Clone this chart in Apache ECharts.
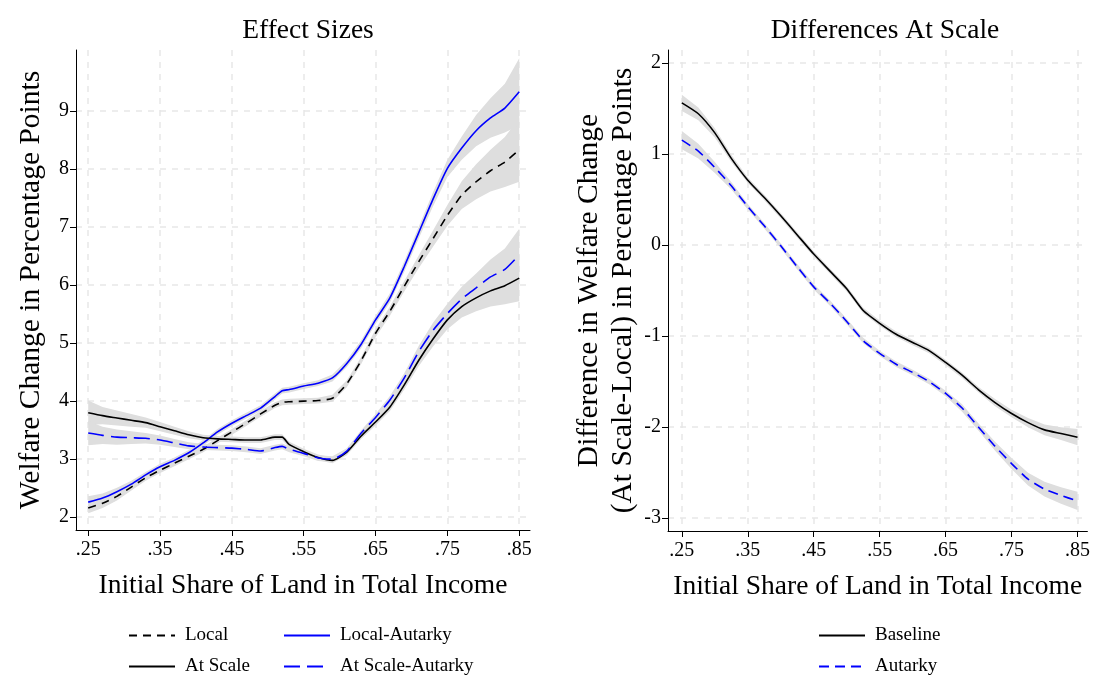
<!DOCTYPE html>
<html lang="en">
<head>
    <meta charset="UTF-8">
    <title>Effect Sizes</title>
    <script src="https://cdn.jsdelivr.net/npm/echarts@6/dist/echarts.min.js"></script>
    <style>
        html, body { margin: 0; padding: 0; background: #fff; }
    </style>
</head>
<body>
<div id="main" style="width: 1093px;height:675px;"></div>
<script type="text/javascript">
    // left panel: x grid and the four curves
    var xLeft = [0.25, 0.27, 0.29, 0.31, 0.33, 0.35, 0.37, 0.39, 0.41, 0.43, 0.45, 0.47, 0.49, 0.51, 0.52,
        0.53, 0.55, 0.57, 0.59, 0.61, 0.63, 0.65, 0.67, 0.69, 0.71, 0.73, 0.75, 0.77, 0.79, 0.81, 0.83, 0.85];
    var local = [2.16, 2.24, 2.36, 2.52, 2.68, 2.81, 2.93, 3.05, 3.17, 3.32, 3.47, 3.62, 3.78, 3.93, 3.98,
        3.99, 4.00, 4.01, 4.05, 4.30, 4.70, 5.17, 5.55, 5.98, 6.40, 6.80, 7.20, 7.55, 7.78, 7.97, 8.12, 8.33];
    var localAutarky = [2.26, 2.33, 2.44, 2.57, 2.73, 2.87, 2.98, 3.11, 3.28, 3.47, 3.62, 3.75, 3.88, 4.08, 4.18,
        4.20, 4.26, 4.31, 4.40, 4.65, 4.98, 5.40, 5.78, 6.32, 6.90, 7.48, 8.01, 8.36, 8.66, 8.88, 9.05, 9.33];
    var atScale = [3.80, 3.75, 3.71, 3.67, 3.63, 3.56, 3.49, 3.42, 3.37, 3.35, 3.34, 3.33, 3.33, 3.38, 3.38,
        3.25, 3.13, 3.03, 2.98, 3.12, 3.40, 3.64, 3.90, 4.28, 4.70, 5.07, 5.40, 5.63, 5.78, 5.90, 5.99, 6.12];
    var atScaleAutarky = [3.45, 3.41, 3.38, 3.37, 3.36, 3.33, 3.28, 3.23, 3.21, 3.20, 3.19, 3.17, 3.14, 3.20, 3.22,
        3.17, 3.10, 3.02, 3.00, 3.14, 3.45, 3.72, 4.02, 4.40, 4.85, 5.22, 5.51, 5.76, 5.95, 6.14, 6.27, 6.52];
    // half widths of the confidence bands
    var wLocal = [0.09, 0.08, 0.07, 0.06, 0.05, 0.05, 0.05, 0.05, 0.05, 0.05, 0.05, 0.05, 0.05, 0.05, 0.05,
        0.05, 0.05, 0.05, 0.06, 0.06, 0.06, 0.07, 0.08, 0.09, 0.11, 0.14, 0.18, 0.24, 0.30, 0.36, 0.43, 0.55];
    var wLocalAutarky = [0.10, 0.08, 0.07, 0.06, 0.05, 0.05, 0.05, 0.05, 0.05, 0.05, 0.05, 0.05, 0.05, 0.05, 0.05,
        0.05, 0.05, 0.05, 0.06, 0.06, 0.07, 0.07, 0.08, 0.09, 0.10, 0.12, 0.15, 0.20, 0.27, 0.34, 0.42, 0.58];
    var wAtScale = [0.21, 0.15, 0.13, 0.11, 0.09, 0.08, 0.07, 0.06, 0.05, 0.05, 0.05, 0.05, 0.05, 0.05, 0.05,
        0.05, 0.05, 0.05, 0.05, 0.05, 0.05, 0.06, 0.07, 0.08, 0.10, 0.13, 0.16, 0.19, 0.23, 0.27, 0.32, 0.40];
    var wAtScaleAutarky = [0.21, 0.15, 0.13, 0.11, 0.09, 0.08, 0.07, 0.06, 0.05, 0.05, 0.05, 0.05, 0.05, 0.05, 0.05,
        0.05, 0.05, 0.05, 0.05, 0.05, 0.05, 0.06, 0.07, 0.08, 0.10, 0.13, 0.17, 0.21, 0.25, 0.30, 0.36, 0.45];

    // right panel
    var xRight = [0.25, 0.275, 0.30, 0.325, 0.35, 0.375, 0.40, 0.425, 0.45, 0.475, 0.50, 0.525, 0.55,
        0.575, 0.60, 0.625, 0.65, 0.675, 0.70, 0.725, 0.75, 0.775, 0.80, 0.825, 0.85];
    var baseline = [1.56, 1.44, 1.23, 0.95, 0.71, 0.52, 0.32, 0.11, -0.10, -0.29, -0.48, -0.72, -0.86,
        -0.98, -1.07, -1.16, -1.29, -1.43, -1.59, -1.73, -1.85, -1.95, -2.03, -2.07, -2.11];
    var autarky = [1.15, 1.03, 0.85, 0.65, 0.42, 0.21, -0.01, -0.24, -0.46, -0.64, -0.84, -1.05, -1.19,
        -1.31, -1.40, -1.50, -1.63, -1.79, -2.00, -2.21, -2.40, -2.57, -2.68, -2.75, -2.81];
    var wBaseline = [0.09, 0.07, 0.05, 0.04, 0.03, 0.03, 0.03, 0.03, 0.03, 0.03, 0.03, 0.03, 0.03,
        0.03, 0.03, 0.03, 0.03, 0.03, 0.03, 0.04, 0.04, 0.05, 0.06, 0.07, 0.09];
    var wAutarky = [0.10, 0.08, 0.06, 0.04, 0.03, 0.03, 0.03, 0.03, 0.03, 0.03, 0.03, 0.03, 0.03,
        0.03, 0.03, 0.03, 0.03, 0.04, 0.04, 0.05, 0.06, 0.07, 0.08, 0.09, 0.10];

    var xTicks = [0.25, 0.35, 0.45, 0.55, 0.65, 0.75, 0.85];
    var yTicksLeft = [2, 3, 4, 5, 6, 7, 8, 9];
    var yTicksRight = [-3, -2, -1, 0, 1, 2];

    var FONT = 'Liberation Serif';
    var myChart = echarts.init(document.getElementById('main'));

    function pairs(xs, ys) {
        return xs.map(function (x, i) { return [x, ys[i]]; });
    }

    // gray band drawn as one polygon through the axis scales
    function band(xs, ys, ws, gi) {
        return {
            type: 'custom', xAxisIndex: gi, yAxisIndex: gi, z: 1, silent: true,
            data: [[xs[0], ys[0]]],
            renderItem: function (params, api) {
                var pts = [];
                for (var i = 0; i < xs.length; i++) pts.push(api.coord([xs[i], ys[i] + ws[i]]));
                for (var j = xs.length - 1; j >= 0; j--) pts.push(api.coord([xs[j], ys[j] - ws[j]]));
                return { type: 'polygon', shape: { points: pts }, style: { fill: '#dedede' } };
            }
        };
    }

    function line(name, xs, ys, color, type, gi) {
        return {
            name: name, type: 'line', xAxisIndex: gi, yAxisIndex: gi, z: 3,
            data: pairs(xs, ys), symbol: 'none', smooth: 0.2,
            lineStyle: { color: color, width: 1.6, type: type },
            itemStyle: { color: color }
        };
    }

    function xAx(gi, min, max) {
        return {
            type: 'value', gridIndex: gi, min: min, max: max,
            name: 'Initial Share of Land in Total Income', nameLocation: 'middle', nameGap: 42,
            nameTextStyle: { fontFamily: FONT, fontSize: 27.5, color: '#000' },
            axisLine: { onZero: false, lineStyle: { color: '#000', width: 1 } },
            axisTick: { customValues: xTicks, length: 6, lineStyle: { color: '#000' } },
            axisLabel: {
                customValues: xTicks, fontFamily: FONT, fontSize: 20, color: '#000', margin: 10,
                formatter: function (v) { return v.toFixed(2).replace(/^0/, ''); }
            },
            splitLine: { show: true, lineStyle: { color: '#e8e8e8', type: [6, 6], width: 1.5 } }
        };
    }

    function yAx(gi, min, max, ticks, name, gap) {
        return {
            type: 'value', gridIndex: gi, min: min, max: max,
            name: name, nameLocation: 'middle', nameGap: gap,
            nameTextStyle: { fontFamily: FONT, fontSize: 29.5, color: '#000', lineHeight: 34 },
            axisLine: { show: true, onZero: false, lineStyle: { color: '#000', width: 1 } },
            axisTick: { show: true, customValues: ticks, length: 6, lineStyle: { color: '#000' } },
            axisLabel: { customValues: ticks, fontFamily: FONT, fontSize: 20, color: '#000', margin: 7 },
            splitLine: { show: true, lineStyle: { color: '#e8e8e8', type: [6, 6], width: 1.5 } }
        };
    }

    function legendBox(names, left) {
        return {
            data: names, orient: 'vertical', left: left, top: 626, height: 80, padding: 0,
            itemWidth: 46, itemHeight: 18, itemGap: 12,
            itemStyle: { opacity: 0 },
            textStyle: { fontFamily: FONT, fontSize: 19, color: '#000', padding: [0, 0, 0, 5] }
        };
    }

    var option = {
        animation: false,
        title: [
            { text: 'Effect Sizes', left: 303, top: 12, textAlign: 'center',
              textStyle: { fontFamily: FONT, fontSize: 27.5, fontWeight: 'normal', color: '#000' } },
            { text: 'Differences At Scale', left: 880, top: 12, textAlign: 'center',
              textStyle: { fontFamily: FONT, fontSize: 27.5, fontWeight: 'normal', color: '#000' } }
        ],
        legend: [
            legendBox(['Local', 'At Scale'], 128),
            legendBox(['Local-Autarky', 'At Scale-Autarky'], 283),
            legendBox(['Baseline', 'Autarky'], 818)
        ],
        grid: [
            { left: 76, top: 50, width: 454, height: 480 },
            { left: 668, top: 50, width: 422, height: 481 }
        ],
        xAxis: [xAx(0, 0.233, 0.865), xAx(1, 0.229, 0.865)],
        yAxis: [
            yAx(0, 1.78, 10.05, yTicksLeft, 'Welfare Change in Percentage Points', 28),
            yAx(1, -3.14, 2.14, yTicksRight, 'Difference in Welfare Change\n(At Scale-Local) in Percentage Points', 21)
        ],
        series: [
            band(xLeft, local, wLocal, 0),
            band(xLeft, localAutarky, wLocalAutarky, 0),
            band(xLeft, atScale, wAtScale, 0),
            band(xLeft, atScaleAutarky, wAtScaleAutarky, 0),
            band(xRight, baseline, wBaseline, 1),
            band(xRight, autarky, wAutarky, 1),
            line('Local', xLeft, local, '#000', [8, 6], 0),
            line('Local-Autarky', xLeft, localAutarky, '#0000ff', 'solid', 0),
            line('At Scale', xLeft, atScale, '#000', 'solid', 0),
            line('At Scale-Autarky', xLeft, atScaleAutarky, '#0000ff', [16, 7], 0),
            line('Baseline', xRight, baseline, '#000', 'solid', 1),
            line('Autarky', xRight, autarky, '#0000ff', [10, 6], 1)
        ]
    };

    myChart.setOption(option);
</script>
</body>
</html>
